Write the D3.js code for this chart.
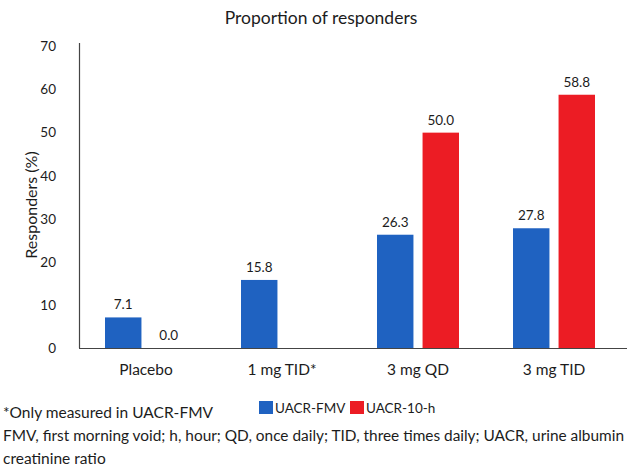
<!DOCTYPE html>
<html>
<head>
<meta charset="utf-8">
<script src="https://cdn.jsdelivr.net/npm/d3@7"></script>
<style>
  html, body { margin: 0; padding: 0; background: #ffffff; }
  svg { display: block; font-family: Lato, "Open Sans", sans-serif; }
</style>
</head>
<body>
<svg id="chart" width="627" height="466"></svg>
<script>
const categories = ["Placebo", "1 mg TID*", "3 mg QD", "3 mg TID"];
const seriesNames = ["UACR-FMV", "UACR-10-h"];
const fmvValues = [7.1, 15.8, 26.3, 27.8];
const tenHValues = [0.0, null, 50.0, 58.8];
const yTicks = [0, 10, 20, 30, 40, 50, 60, 70];
const colors = ["#1f62c1", "#ec1c24"];
const title = "Proportion of responders";
const yTitle = "Responders (%)";
const footnotes = [
  "*Only measured in UACR-FMV",
  "FMV, first morning void; h, hour; QD, once daily; TID, three times daily; UACR, urine albumin",
  "creatinine ratio"
];

const svg = d3.select("#chart");
const textColor = "#1c1c1c";

const y = d3.scaleLinear().domain([0, 70]).range([348, 46.5]);
const x0 = d3.scaleBand().domain(categories).range([78, 622]).padding(0);
const x1 = d3.scaleBand().domain(seriesNames)
  .range([x0.bandwidth() / 2 - 41, x0.bandwidth() / 2 + 41])
  .paddingInner(0.2).paddingOuter(0);

const rows = categories.map((c, i) => ({
  cat: c,
  vals: [
    { s: seriesNames[0], v: fmvValues[i] },
    { s: seriesNames[1], v: tenHValues[i] }
  ]
}));

// title
svg.append("text").attr("x", 321).attr("y", 24).attr("text-anchor", "middle")
  .attr("font-size", 17.5).attr("fill", textColor).text(title);

// y axis (labels + line)
const yAxis = d3.axisLeft(y).tickValues(yTicks).tickSize(0).tickPadding(0).tickFormat(d3.format("d"));
const gy = svg.append("g").attr("transform", "translate(80,0)").call(yAxis);
gy.select(".domain").remove();
gy.selectAll("text").attr("x", -24).attr("dy", "0.32em").attr("font-size", 13.5)
  .attr("fill", textColor).attr("font-family", "Lato, sans-serif");
svg.append("line").attr("x1", 79.5).attr("x2", 79.5).attr("y1", 43).attr("y2", y(0))
  .attr("stroke", "#444").attr("stroke-width", 1.2);

// bars
const groups = svg.append("g").selectAll("g").data(rows).join("g")
  .attr("transform", d => `translate(${x0(d.cat)},0)`);
groups.selectAll("rect").data(d => d.vals.filter(e => e.v !== null)).join("rect")
  .attr("x", d => x1(d.s)).attr("width", x1.bandwidth())
  .attr("y", d => y(d.v)).attr("height", d => y(0) - y(d.v))
  .attr("fill", d => colors[seriesNames.indexOf(d.s)]);
groups.selectAll("text").data(d => d.vals.filter(e => e.v !== null)).join("text")
  .attr("x", d => x1(d.s) + x1.bandwidth() / 2)
  .attr("y", d => y(d.v) - 8)
  .attr("text-anchor", "middle").attr("font-size", 13.5).attr("fill", textColor)
  .text(d => d3.format(".1f")(d.v));

// x axis
const xAxis = d3.axisBottom(x0).tickSize(0).tickPadding(0);
const gx = svg.append("g").attr("transform", `translate(0,${y(0)})`).call(xAxis);
gx.select(".domain").remove();
gx.selectAll("text").attr("y", 27).attr("dy", 0).attr("font-size", 15.5)
  .attr("fill", textColor).attr("font-family", "Lato, sans-serif");
svg.append("line").attr("x1", 79).attr("x2", 627).attr("y1", y(0) + 0.5).attr("y2", y(0) + 0.5)
  .attr("stroke", "#444").attr("stroke-width", 1.2);

// y title
svg.append("text").attr("transform", "translate(37,205) rotate(-90)")
  .attr("text-anchor", "middle").attr("font-size", 16).attr("fill", textColor).text(yTitle);

// legend
const legX = [259, 350];
seriesNames.forEach((s, i) => {
  svg.append("rect").attr("x", legX[i]).attr("y", 401).attr("width", 14).attr("height", 13)
    .attr("fill", colors[i]);
  svg.append("text").attr("x", legX[i] + 16).attr("y", 413).attr("font-size", 13.5)
    .attr("fill", textColor).text(s);
});

// footnotes
footnotes.forEach((t, i) => {
  const el = svg.append("text").attr("x", 3).attr("y", 418 + i * 23).attr("font-size", 15.5)
    .attr("fill", textColor).text(t);
  if (i === 1) el.attr("textLength", 621).attr("lengthAdjust", "spacingAndGlyphs");
});
</script>
</body>
</html>
